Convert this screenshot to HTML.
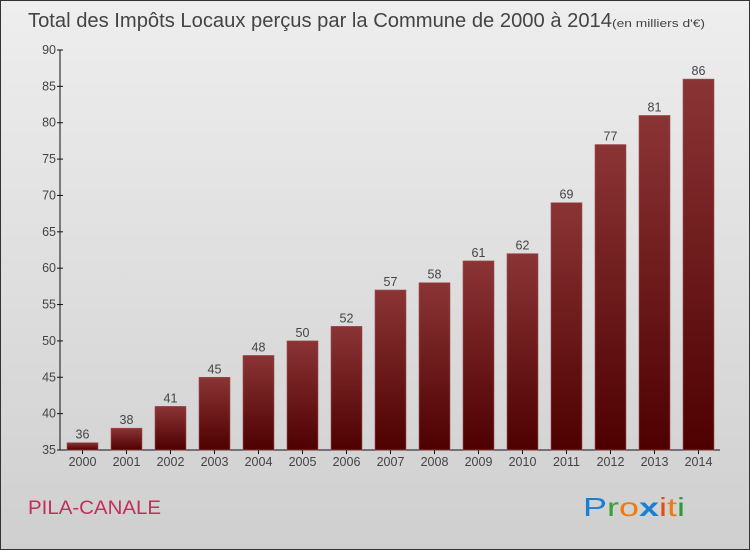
<!DOCTYPE html>
<html><head><meta charset="utf-8">
<style>
body{margin:0;width:750px;height:550px;overflow:hidden;font-family:"Liberation Sans",sans-serif;}
#wrap{position:absolute;left:0;top:0;width:748px;height:548px;border:1px solid #333;background:linear-gradient(#eeeeee,#cfcfcf);}
</style></head><body>
<div id="wrap">
<svg id="svg" width="750" height="550" style="position:absolute;left:-1px;top:-1px" font-family="Liberation Sans, sans-serif">
<defs>
<linearGradient id="bg" x1="0" y1="0" x2="0" y2="1">
<stop offset="0" stop-color="#8b3436"/><stop offset="1" stop-color="#4e0000"/>
</linearGradient>
</defs>
<text x="28" y="27" font-size="20" fill="#444"><tspan textLength="584" lengthAdjust="spacingAndGlyphs">Total des Impôts Locaux perçus par la Commune de 2000 à 2014</tspan><tspan font-size="11" textLength="93" lengthAdjust="spacingAndGlyphs">(en milliers d'€)</tspan></text>
<g id="axes"></g>
<g id="bars"></g>
<text x="28" y="514" font-size="19" fill="#c0305a" textLength="133" lengthAdjust="spacingAndGlyphs">PILA-CANALE</text>
<g font-size="26">
<text x="583" y="516" textLength="102" lengthAdjust="spacingAndGlyphs"><tspan fill="#1a7fd4">P</tspan><tspan fill="#3aa03a">r</tspan><tspan fill="#f07a10">o</tspan><tspan fill="#1a7fd4" font-weight="bold">x</tspan><tspan fill="#e05010">i</tspan><tspan fill="#f07a10">t</tspan><tspan fill="#2a9a3a">i</tspan></text>
</g>
</svg>
</div>
<script>
const years=["2000","2001","2002","2003","2004","2005","2006","2007","2008","2009","2010","2011","2012","2013","2014"];
const values=[36,38,41,45,48,50,52,57,58,61,62,69,77,81,86];
const yTicks=[35,40,45,50,55,60,65,70,75,80,85,90];
const NS="http://www.w3.org/2000/svg";
const y0=450,yTop=50,vMin=35,vMax=90,xLeft=60,xRight=720;
function yPos(v){return y0-(v-vMin)/(vMax-vMin)*(y0-yTop);}
function xPos(i){return 67+i*44;}
const bw=31;
const ax=document.getElementById('axes'),bg=document.getElementById('bars');
function mk(t,a,p){const e=document.createElementNS(NS,t);for(const k in a)e.setAttribute(k,a[k]);p.appendChild(e);return e;}
const yl=mk('line',{x1:xLeft,y1:yTop,x2:xLeft,y2:y0,stroke:'#111'},ax);


const xl=mk('line',{x1:xLeft,y1:y0,x2:xRight,y2:y0,stroke:'#111'},ax);


yTicks.forEach(v=>{
 const y=yPos(v);
 mk('line',{x1:xLeft-3,y1:y,x2:xLeft+3,y2:y,stroke:'#111'},ax);
 const t=mk('text',{x:xLeft-4,y:y+4,'text-anchor':'end','font-size':12.5,fill:'#444'},ax);
 t.textContent=v;
 
 
});
years.forEach((yr,i)=>{
 const x=xPos(i),v=values[i],y=yPos(v);
 const r=mk('rect',{x:x,y:y,width:bw,height:y0-y,fill:'url(#bg)',stroke:'#a05050','stroke-width':0.6},bg);
 
 
 const vl=mk('text',{x:x+bw/2,y:y-4,'text-anchor':'middle','font-size':12.5,fill:'#444'},bg);
 vl.textContent=v;
 
 
 mk('line',{x1:x+bw/2,y1:y0,x2:x+bw/2,y2:y0+4,stroke:'#111'},ax);
 const t=mk('text',{x:x+bw/2,y:y0+16,'text-anchor':'middle','font-size':12.5,fill:'#444'},ax);
 t.textContent=yr;
 
 
});
</script>
</body></html>
